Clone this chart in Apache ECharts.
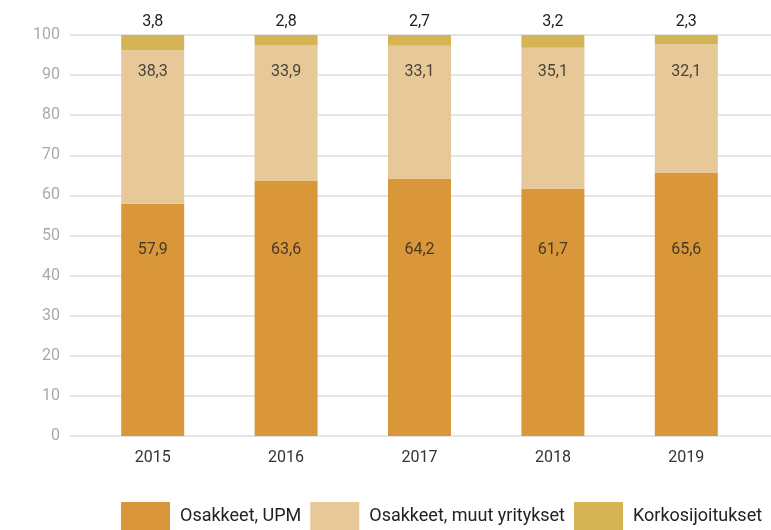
<!DOCTYPE html>
<html>
<head>
<meta charset="utf-8">
<script src="https://cdn.jsdelivr.net/npm/echarts@6/dist/echarts.min.js"></script>
<style>html,body{margin:0;padding:0;background:#fff}#c{width:771px;height:530px}</style>
</head>
<body>
<div id="c"></div>
<script>
const years = ['2015', '2016', '2017', '2018', '2019'];
const upm = [57.9, 63.6, 64.2, 61.7, 65.6];
const muut = [38.3, 33.9, 33.1, 35.1, 32.1];
const korko = [3.8, 2.8, 2.7, 3.2, 2.3];
const seriesNames = ['Osakkeet, UPM', 'Osakkeet, muut yritykset', 'Korkosijoitukset'];
const yTicks = { min: 0, max: 100, interval: 10 };
// value heights at which the inside labels sit in the reference
const labelLevelUpm = 46.5;
const labelLevelMuut = 90.7;

const colors = ['#DA973A', '#E6C899', '#D5B455'];
const fmt = v => String(v).replace('.', ',');
const font = 'Roboto';

const chart = echarts.init(document.getElementById('c'));
chart.setOption({
  animation: false,
  textStyle: { fontFamily: font },
  grid: [
    { left: 70, right: 0, top: 35, bottom: 94 },
    { left: 86, right: 18, top: 35, bottom: 94 }
  ],
  xAxis: [
    { gridIndex: 0, type: 'category', data: years, show: false },
    { gridIndex: 1, type: 'category', data: years,
      axisLine: { show: false }, axisTick: { show: false },
      axisLabel: { color: '#333', fontSize: 16, margin: 14, fontFamily: font } }
  ],
  yAxis: [
    { gridIndex: 0, type: 'value', min: yTicks.min, max: yTicks.max, interval: yTicks.interval,
      axisLine: { show: false }, axisTick: { show: false },
      axisLabel: { color: '#aaaaaa', fontSize: 16, margin: 10, fontFamily: font },
      splitLine: { lineStyle: { color: '#dddddd', width: 1.5 } } },
    { gridIndex: 1, type: 'value', min: yTicks.min, max: yTicks.max, interval: yTicks.interval, show: false }
  ],
  legend: {
    left: 121, top: 502, width: 650, padding: 0,
    itemWidth: 49, itemHeight: 28, itemGap: 9,
    icon: 'rect',
    textStyle: { fontSize: 18, color: '#222', fontFamily: font, padding: [2, 0, 0, 5] },
    data: seriesNames
  },
  series: [
    { name: seriesNames[0], type: 'bar', stack: 's', xAxisIndex: 1, yAxisIndex: 1,
      barWidth: 63, data: upm, itemStyle: { color: colors[0] } },
    { name: seriesNames[1], type: 'bar', stack: 's', xAxisIndex: 1, yAxisIndex: 1,
      barWidth: 63, data: muut, itemStyle: { color: colors[1] } },
    { name: seriesNames[2], type: 'bar', stack: 's', xAxisIndex: 1, yAxisIndex: 1,
      barWidth: 63, data: korko, itemStyle: { color: colors[2] },
      label: { show: true, position: 'top', distance: 5, color: '#222', fontSize: 16, fontFamily: font,
        formatter: p => fmt(p.value) } },
    { type: 'scatter', xAxisIndex: 1, yAxisIndex: 1, symbolSize: 0, silent: true, z: 5,
      data: years.map((y, i) => [y, labelLevelUpm, upm[i]]),
      label: { show: true, position: 'inside', color: '#222', fontSize: 16, fontFamily: font,
        formatter: p => fmt(p.value[2]) } },
    { type: 'scatter', xAxisIndex: 1, yAxisIndex: 1, symbolSize: 0, silent: true, z: 5,
      data: years.map((y, i) => [y, labelLevelMuut, muut[i]]),
      label: { show: true, position: 'inside', color: '#222', fontSize: 16, fontFamily: font,
        formatter: p => fmt(p.value[2]) } }
  ]
});
</script>
</body>
</html>
